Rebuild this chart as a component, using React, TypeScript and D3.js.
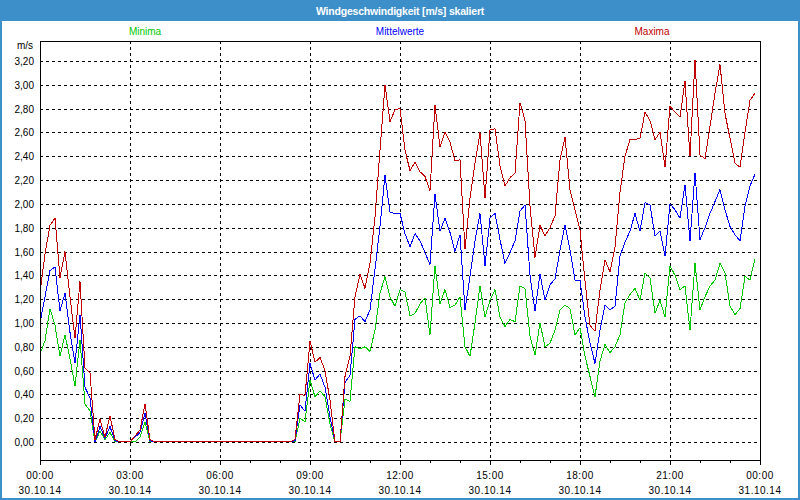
import React from "react";
import * as d3 from "d3";

// 10-minute samples, 30.10.14 00:00 .. 23:50
const minima = [
  0.74, 0.85, 1.12, 0.98, 0.72, 0.9, 0.7, 0.47, 0.86, 0.32,
  0.26, 0, 0.09, 0.02, 0.08, 0, 0, 0, 0, 0,
  0.04, 0.17, 0,
  0, 0, 0, 0, 0, 0, 0, 0, 0, 0,
  0, 0, 0, 0, 0, 0, 0, 0, 0, 0,
  0, 0, 0, 0, 0, 0, 0, 0,
  0, 0.2, 0.17, 0.52, 0.38, 0.43, 0.38, 0.15, 0, 0,
  0.36, 0.34, 0.8, 0.78, 0.8, 0.76, 0.94, 1.25, 1.39, 1.22,
  1.14, 1.28, 1.26, 1.06, 1.08, 1.16, 1.21, 0.9, 1.48, 1.16,
  1.28, 1.13, 1.15, 1.22, 0.8, 0.72, 1.0, 1.31, 1.05, 1.19,
  1.28, 1.05, 0.97, 1.03, 1.01, 1.31, 1.29, 0.89, 0.73, 1.0,
  0.8, 0.83, 0.94, 1.11, 1.15, 1.12, 0.9, 0.96, 0.72, 0.55,
  0.38, 0.68, 0.82, 0.75, 0.8, 0.9, 1.17, 1.24, 1.29, 1.19,
  1.42, 1.38, 1.08, 1.19, 1.05, 1.48, 1.4, 1.28, 1.31, 0.94,
  1.5, 1.11, 1.22, 1.31, 1.36, 1.5, 1.42, 1.14, 1.07, 1.12,
  1.39, 1.36, 1.54,
];

const mittelwerte = [
  1.0, 1.22, 1.44, 1.47, 1.1, 1.25, 0.92, 0.66, 1.07, 0.46,
  0.37, 0, 0.13, 0.03, 0.13, 0.01, 0, 0, 0, 0.04,
  0.08, 0.24, 0.01,
  0, 0, 0, 0, 0, 0, 0, 0, 0, 0,
  0, 0, 0, 0, 0, 0, 0, 0, 0, 0,
  0, 0, 0, 0, 0, 0, 0, 0,
  0.01, 0.31, 0.26, 0.66, 0.52, 0.57, 0.46, 0.21, 0, 0,
  0.5, 0.56, 1.03, 1.06, 1.01, 1.11, 1.45, 1.81, 2.24, 1.93,
  1.92, 1.92, 1.75, 1.64, 1.75, 1.69, 1.59, 1.49, 2.08, 1.77,
  1.88, 1.76, 1.6, 1.74, 1.11, 1.39, 1.69, 1.92, 1.48, 1.88,
  1.92, 1.7, 1.5, 1.59, 1.69, 1.94, 1.99, 1.4, 1.1, 1.41,
  1.19, 1.32, 1.37, 1.61, 1.82, 1.61, 1.36, 1.36, 1.05, 0.83,
  0.66, 0.94, 1.15, 1.11, 1.14, 1.56, 1.68, 1.77, 1.92, 1.77,
  2.01, 1.99, 1.73, 1.77, 1.56, 2.0, 1.95, 1.88, 2.16, 1.69,
  2.26, 1.7, 1.8, 1.92, 2.02, 2.12, 1.95, 1.81, 1.74, 1.69,
  1.98, 2.15, 2.25,
];

const maxima = [
  1.25, 1.58, 1.82, 1.88, 1.38, 1.6, 1.22, 0.87, 1.35, 0.62,
  0.58, 0.02, 0.19, 0.04, 0.22, 0.02, 0, 0, 0, 0.05,
  0.1, 0.32, 0.02,
  0, 0, 0, 0, 0, 0, 0, 0, 0, 0,
  0, 0, 0, 0, 0, 0, 0, 0, 0, 0,
  0, 0, 0, 0, 0, 0, 0, 0,
  0.02, 0.4, 0.39, 0.85, 0.67, 0.71, 0.6, 0.35, 0, 0,
  0.55, 0.72, 1.22, 1.41, 1.29, 1.5, 1.89, 2.45, 3.0, 2.69,
  2.79, 2.8, 2.45, 2.28, 2.35, 2.27, 2.23, 2.11, 2.83, 2.48,
  2.6, 2.52, 2.36, 2.37, 1.62, 2.05, 2.34, 2.6, 2.05, 2.62,
  2.63, 2.32, 2.15, 2.22, 2.26, 2.85, 2.7, 1.98, 1.55, 1.82,
  1.73, 1.8, 1.9, 2.37, 2.56, 2.12, 1.95, 1.78, 1.35, 0.98,
  0.93, 1.28, 1.53, 1.43, 1.64, 2.1, 2.4, 2.54, 2.54, 2.55,
  2.77, 2.7, 2.54, 2.6, 2.31, 2.82, 2.77, 2.73, 3.03, 2.4,
  3.21, 2.41, 2.38, 2.65, 2.93, 3.17, 2.76, 2.55, 2.34, 2.31,
  2.6, 2.87, 2.93,
];

const seriesNames = ["Minima", "Mittelwerte", "Maxima"];
const seriesColors = ["#00c800", "#0000ff", "#c00000"];
const yTicks = [0, 0.2, 0.4, 0.6, 0.8, 1.0, 1.2, 1.4, 1.6, 1.8, 2.0, 2.2, 2.4, 2.6, 2.8, 3.0, 3.2];
const xTickHours = [0, 3, 6, 9, 12, 15, 18, 21, 24];
const xTimeLabels = ["00:00", "03:00", "06:00", "09:00", "12:00", "15:00", "18:00", "21:00", "00:00"];
const xDateLabels = ["30.10.14", "30.10.14", "30.10.14", "30.10.14", "30.10.14", "30.10.14", "30.10.14", "30.10.14", "31.10.14"];
const title = "Windgeschwindigkeit [m/s] skaliert";
const unit = "m/s";

const W = 800;
const H = 500;
const L = 40, R = 760, T = 41, B = 460;
const FONT = "'Liberation Sans', Arial, sans-serif";
const FRAME_BLUE = "#3d8fc9";

export default function App() {
  const x = d3.scaleLinear().domain([0, 24]).range([L, R]);
  const y = d3.scaleLinear().domain([-0.1512, 3.368]).range([B, T]);
  const line = d3
    .line<number>()
    .x((_, i) => x(i / 6))
    .y((d) => y(d));
  const series = [minima, mittelwerte, maxima];
  const hours = d3.range(0, 25);
  const fmt = (v: number) => d3.format(".2f")(v).replace(".", ",");
  const legendX = [145, 400, 652];

  return (
    <svg
      width={W}
      height={H}
      style={{ position: "absolute", left: 0, top: 0, background: "#fff" }}
      fontFamily={FONT}
    >
      <rect x={0} y={0} width={W} height={H} fill="#fff" />
      <rect x={0} y={0} width={W} height={21} fill={FRAME_BLUE} />
      <rect x={1} y={1} width={W - 2} height={H - 2} fill="none" stroke={FRAME_BLUE} strokeWidth={2} />
      <text x={400} y={15} textAnchor="middle" fill="#fff" fontWeight="bold" fontSize={10.5} letterSpacing={-0.2}>
        {title}
      </text>

      {seriesNames.map((n, i) => (
        <text key={n} x={legendX[i]} y={35} textAnchor="middle" fill={seriesColors[i]} fontSize={10}>
          {n}
        </text>
      ))}

      {/* horizontal grid */}
      <g shapeRendering="crispEdges">
        {yTicks.map((v) => (
          <line
            key={v}
            x1={L}
            x2={R}
            y1={Math.round(y(v)) + 0.5}
            y2={Math.round(y(v)) + 0.5}
            stroke="#000"
            strokeDasharray="3,3"
          />
        ))}
        {xTickHours.slice(1, -1).map((h) => (
          <line
            key={h}
            x1={Math.round(x(h)) + 0.5}
            x2={Math.round(x(h)) + 0.5}
            y1={T}
            y2={B}
            stroke="#000"
            strokeDasharray="3,3"
          />
        ))}
      </g>

      {/* data */}
      <g shapeRendering="crispEdges" fill="none" strokeWidth={1}>
        {series.map((s, i) => (
          <path key={i} d={line(s) || ""} stroke={seriesColors[i]} />
        ))}
      </g>

      {/* frame */}
      <rect
        x={L + 0.5}
        y={T + 0.5}
        width={R - L}
        height={B - T}
        fill="none"
        stroke="#000"
        shapeRendering="crispEdges"
      />

      {/* x ticks */}
      <g shapeRendering="crispEdges">
        {hours.map((h) => (
          <line
            key={h}
            x1={Math.round(x(h)) + 0.5}
            x2={Math.round(x(h)) + 0.5}
            y1={B}
            y2={B + (h % 3 === 0 ? 5 : 3)}
            stroke="#000"
          />
        ))}
      </g>

      {/* y labels */}
      {yTicks.map((v) => (
        <text key={v} x={34} y={y(v) + 4} textAnchor="end" fontSize={10} fill="#000">
          {fmt(v)}
        </text>
      ))}
      <text x={33} y={49} textAnchor="end" fontSize={10} fill="#000">
        {unit}
      </text>

      {/* x labels */}
      {xTickHours.map((h, i) => (
        <g key={h}>
          <text x={x(h)} y={479} textAnchor="middle" fontSize={10} letterSpacing={0.5} fill="#000">
            {xTimeLabels[i]}
          </text>
          <text x={x(h)} y={494} textAnchor="middle" fontSize={10} letterSpacing={0.5} fill="#000">
            {xDateLabels[i]}
          </text>
        </g>
      ))}
    </svg>
  );
}
